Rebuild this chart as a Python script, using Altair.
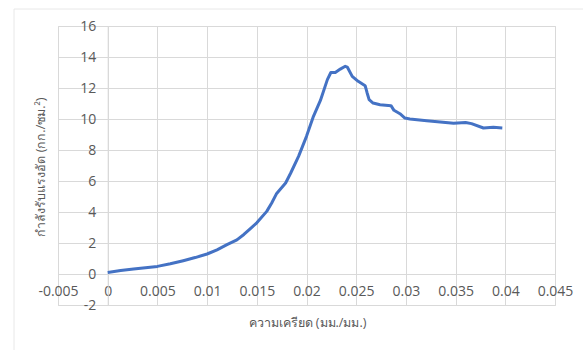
import altair as alt
import pandas as pd

# Compressive stress-strain curve
strain = [0, 0.0013, 0.0026, 0.0038, 0.005, 0.0063, 0.0076, 0.0088, 0.010, 0.011,
          0.012, 0.013, 0.0137, 0.0143, 0.015, 0.016, 0.0165, 0.017, 0.0179, 0.0184,
          0.0192, 0.020, 0.0207, 0.0214, 0.0221, 0.02245, 0.0229, 0.0234, 0.0239, 0.0241,
          0.0246, 0.0252, 0.0259, 0.0261, 0.0263, 0.0267, 0.0274, 0.0285, 0.0288, 0.0294,
          0.0299, 0.0304, 0.0321, 0.0348, 0.0360, 0.0366, 0.0378, 0.0388, 0.0397]
stress = [0.1, 0.22, 0.32, 0.40, 0.49, 0.66, 0.86, 1.06, 1.29, 1.56,
          1.89, 2.2, 2.55, 2.9, 3.3, 4.04, 4.58, 5.2, 5.87, 6.5,
          7.59, 8.88, 10.17, 11.2, 12.54, 13.0, 13.0, 13.22, 13.4, 13.35,
          12.75, 12.43, 12.15, 11.68, 11.25, 11.03, 10.92, 10.86, 10.56, 10.34,
          10.06, 10.0, 9.89, 9.72, 9.78, 9.7, 9.42, 9.46, 9.42]

x_ticks = [-0.005, 0, 0.005, 0.01, 0.015, 0.02, 0.025, 0.03, 0.035, 0.04, 0.045]
y_ticks = [-2, 0, 2, 4, 6, 8, 10, 12, 14, 16]

x_title = "ความเครียด (มม./มม.)"
y_title = "กำลังรับแรงอัด (กก./ซม.²)"

df = pd.DataFrame({"strain": strain, "stress": stress, "i": range(len(strain))})

W, H = 497, 279
FONT = "Open Sans"
TEXT = "#595959"
GRID = "#d9d9d9"
# plain hyphen for negative numbers
LABEL = "replace(format(datum.value, '~g'), '\u2212', '-')"

x_axis = alt.Axis(
    values=x_ticks, labelExpr=LABEL,
    offset=-31, grid=True, gridColor=GRID, domainColor=GRID, ticks=False,
    labelPadding=10, labelFlush=False, labelOverlap=False, labelBound=False,
    labelFontSize=14, labelColor=TEXT, labelFont=FONT,
    title=x_title, titleFontSize=12.5, titleColor=TEXT, titleFont=FONT, titleFontWeight="normal",
    titleX=249, titleY=48, titleBaseline="middle",
)
y_axis = alt.Axis(
    values=y_ticks, labelExpr=LABEL, offset=-49.7, grid=True, gridColor=GRID, domainColor=GRID,
    ticks=False, labelPadding=12, labelFlush=False, labelOverlap=False, labelBound=False,
    labelFontSize=14, labelColor=TEXT, labelFont=FONT,
    title=y_title, titleFontSize=12.5, titleColor=TEXT, titleFont=FONT, titleFontWeight="normal",
    titleX=-67.5, titleY=140.5, titleBaseline="middle", titleAngle=-90,
)

frame = alt.Chart(pd.DataFrame({"k": [0]})).mark_rect(
    fill=None, stroke="#e8e8e8", strokeWidth=1
).encode(x=alt.value(-44), x2=alt.value(560), y=alt.value(-17), y2=alt.value(360))

line = alt.Chart(df).mark_line(color="#4472C4", strokeWidth=3, strokeJoin="round").encode(
    x=alt.X("strain:Q", scale=alt.Scale(domain=[-0.005, 0.045], nice=False, zero=False), axis=x_axis),
    y=alt.Y("stress:Q", scale=alt.Scale(domain=[-2, 16], nice=False, zero=False), axis=y_axis),
    order="i:Q",
)

chart = alt.layer(frame, line).properties(
    width=W, height=H,
    autosize=alt.AutoSizeParams(type="none"),
    padding={"left": 58, "top": 26, "right": 28, "bottom": 45},
).configure_view(stroke=None).configure(background="white")

chart.save("out.html", embed_options={"renderer": "svg", "actions": False})
